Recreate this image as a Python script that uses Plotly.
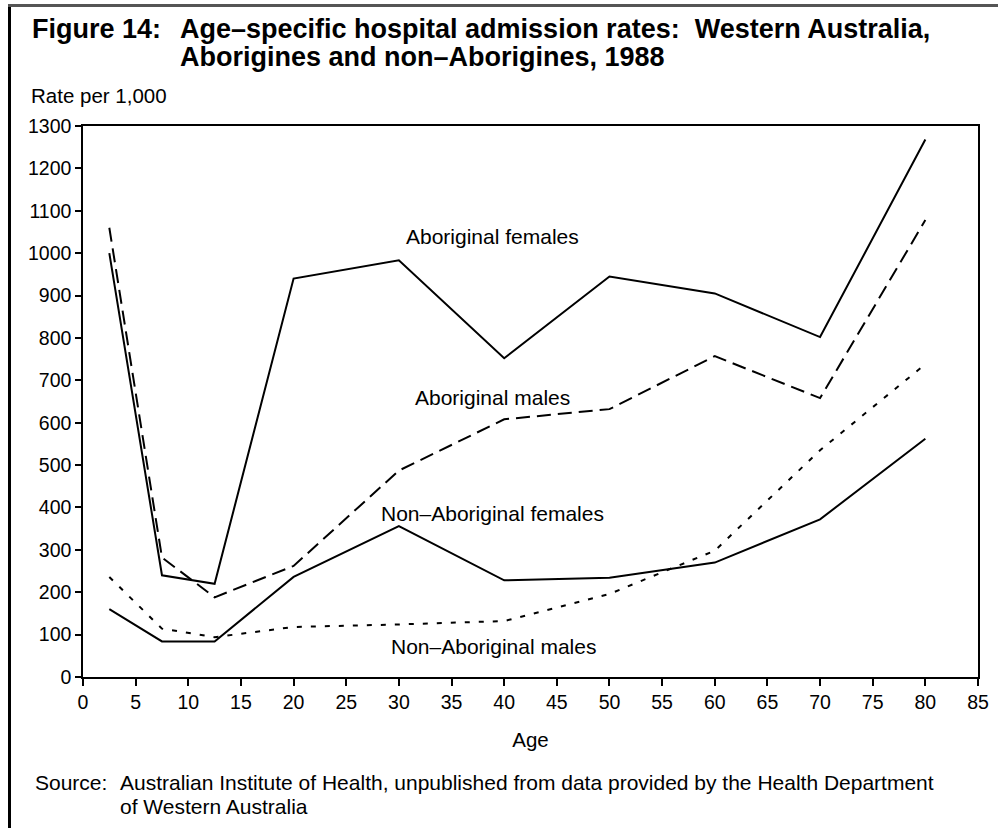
import plotly.graph_objects as go

ages = [2.5, 7.5, 12.5, 20, 30, 40, 50, 60, 70, 80]
aboriginal_females = [1000, 240, 220, 940, 983, 752, 945, 905, 802, 1268]
aboriginal_males = [1060, 282, 188, 262, 487, 608, 632, 757, 658, 1078]
non_aboriginal_females = [160, 84, 84, 236, 356, 228, 234, 270, 372, 562]
non_aboriginal_males = [236, 114, 94, 118, 124, 132, 196, 298, 535, 738]

label_names = ["Aboriginal females", "Aboriginal males",
               "Non\u2013Aboriginal females", "Non\u2013Aboriginal males"]
label_x = [38.9, 38.9, 38.9, 39.0]
label_y = [1040, 660, 385, 72]

x_ticks = list(range(0, 90, 5))
y_ticks = list(range(0, 1400, 100))

FONT = "Liberation Sans, Arial, Helvetica, sans-serif"

fig = go.Figure()
series = [
    (aboriginal_females, "solid"),
    (aboriginal_males, "14px,7px"),
    (non_aboriginal_females, "solid"),
    (non_aboriginal_males, "5px,9px"),
]
for vals, dash in series:
    fig.add_trace(go.Scatter(x=ages, y=vals, mode="lines",
                             line=dict(color="black", width=2, dash=dash),
                             showlegend=False, hoverinfo="skip"))

for name, lx, ly in zip(label_names, label_x, label_y):
    fig.add_annotation(x=lx, y=ly, text=name, showarrow=False,
                       font=dict(family=FONT, size=21, color="black"),
                       xanchor="center", yanchor="middle")

L, R, T, B = 83, 978, 126, 677
W, H = 998, 828
pw, ph = R - L, B - T

def px(x):
    return (x - L) / pw

def py(y):
    return (B - y) / ph

title_font = dict(family=FONT, size=27, color="black")
fig.add_annotation(xref="paper", yref="paper", x=px(30), y=py(29),
                   text="<b>Figure 14:</b>", showarrow=False,
                   xanchor="left", yanchor="middle", font=title_font)
fig.add_annotation(xref="paper", yref="paper", x=px(178), y=py(29),
                   text="<b>Age\u2013specific hospital admission rates:  Western Australia,</b>",
                   showarrow=False, xanchor="left", yanchor="middle", font=title_font)
fig.add_annotation(xref="paper", yref="paper", x=px(178), y=py(57),
                   text="<b>Aborigines and non\u2013Aborigines, 1988</b>",
                   showarrow=False, xanchor="left", yanchor="middle", font=title_font)
fig.add_annotation(xref="paper", yref="paper", x=px(29), y=py(96),
                   text="Rate per 1,000", showarrow=False,
                   xanchor="left", yanchor="middle",
                   font=dict(family=FONT, size=20.5, color="black"))
src_font = dict(family=FONT, size=21, color="black")
fig.add_annotation(xref="paper", yref="paper", x=px(33), y=py(783),
                   text="Source:", showarrow=False,
                   xanchor="left", yanchor="middle", font=src_font)
fig.add_annotation(xref="paper", yref="paper", x=px(118), y=py(783),
                   text="Australian Institute of Health, unpublished from data provided by the Health Department",
                   showarrow=False, xanchor="left", yanchor="middle", font=src_font)
fig.add_annotation(xref="paper", yref="paper", x=px(118), y=py(806),
                   text="of Western Australia",
                   showarrow=False, xanchor="left", yanchor="middle", font=src_font)

# Page borders
fig.add_shape(type="rect", xref="paper", yref="paper",
              x0=px(8), x1=px(11), y0=py(5), y1=py(840),
              line=dict(width=0), fillcolor="black", layer="above")
fig.add_shape(type="rect", xref="paper", yref="paper",
              x0=px(8), x1=px(998), y0=py(4), y1=py(7),
              line=dict(width=0), fillcolor="#555555", layer="above")

fig.update_layout(
    width=W, height=H,
    margin=dict(l=L, r=W - R, t=T, b=H - B, autoexpand=False),
    paper_bgcolor="white", plot_bgcolor="white",
    font=dict(family=FONT, color="black"),
    xaxis=dict(range=[0, 85], tickmode="array", tickvals=x_ticks,
               ticks="outside", ticklen=7, tickwidth=1.5, tickcolor="black",
               showline=True, linecolor="black", linewidth=1.5, mirror=True,
               showgrid=False, zeroline=False,
               tickfont=dict(family=FONT, size=19.5),
               title=dict(text="Age", font=dict(family=FONT, size=20.5), standoff=20)),
    yaxis=dict(range=[0, 1300], tickmode="array", tickvals=y_ticks,
               ticks="outside", ticklen=6, tickwidth=1.5, tickcolor="black",
               showline=True, linecolor="black", linewidth=1.5, mirror=True,
               showgrid=False, zeroline=False,
               tickfont=dict(family=FONT, size=19.5)),
)

fig.write_html("out.html", config={"displayModeBar": False},
               post_script="document.body.style.margin='0';document.body.style.overflow='hidden';")
